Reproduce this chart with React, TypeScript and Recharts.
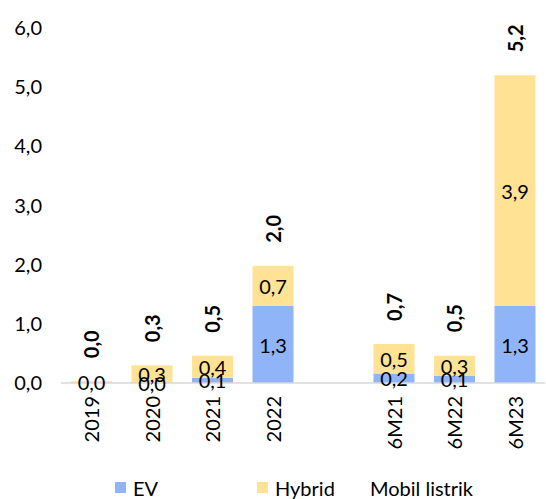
import React from 'react';
import { ComposedChart, Bar, Line, XAxis, YAxis, Legend, LabelList } from 'recharts';

const periods = ['2019', '2020', '2021', '2022', '', '6M21', '6M22', '6M23'];
const evValues = [0.0, 0.01, 0.09, 1.3, null, 0.16, 0.12, 1.3];
const hybridValues = [0.03, 0.29, 0.37, 0.68, null, 0.5, 0.34, 3.9];
const totalValues = [0.03, 0.3, 0.46, 1.98, null, 0.66, 0.47, 5.2];
const yTicks = [0, 1, 2, 3, 4, 5, 6];

const data = periods.map((p, i) => ({
  period: p,
  ev: evValues[i],
  hybrid: hybridValues[i],
  total: totalValues[i],
}));

const FONT = 'Lato, "Noto Sans", sans-serif';
const FS = 20;
const EV_COLOR = '#8FB4F8';
const HYBRID_COLOR = '#FFE294';

const fmt = (v: number) => v.toFixed(1).replace('.', ',');

const SegmentLabel = (props: any) => {
  const { x, y, width, height, value } = props;
  if (value == null) return null;
  return (
    <text
      x={x + width / 2}
      y={y + height / 2}
      textAnchor="middle"
      dominantBaseline="central"
      fontSize={FS}
      fontFamily={FONT}
      fill="#000"
    >
      {fmt(value)}
    </text>
  );
};

const TotalLabel = (props: any) => {
  const { x, y, value } = props;
  if (value == null) return null;
  const cy = y - 37;
  return (
    <text
      x={x}
      y={cy}
      transform={`rotate(-90, ${x}, ${cy})`}
      textAnchor="middle"
      dominantBaseline="central"
      fontSize={FS}
      fontWeight="bold"
      fontFamily={FONT}
      fill="#000"
    >
      {fmt(value)}
    </text>
  );
};

const PeriodTick = (props: any) => {
  const { x, y, payload } = props;
  const ty = y + 5;
  return (
    <text
      x={x}
      y={ty}
      transform={`rotate(-90, ${x}, ${ty})`}
      textAnchor="end"
      dominantBaseline="central"
      fontSize={FS}
      fontFamily={FONT}
      fill="#000"
    >
      {payload.value}
    </text>
  );
};

const legendItems = [
  { label: 'EV', color: EV_COLOR, width: 142 },
  { label: 'Hybrid', color: HYBRID_COLOR, width: 95 },
  { label: 'Mobil listrik', color: 'transparent', width: 140 },
];

const ChartLegend = () => (
  <div style={{ display: 'flex', paddingLeft: 115, fontFamily: FONT, fontSize: FS, color: '#000', height: 25, alignItems: 'center' }}>
    {legendItems.map((it) => (
      <div key={it.label} style={{ display: 'flex', alignItems: 'center', width: it.width }}>
        <span style={{ width: 11, height: 11, background: it.color, marginRight: 7, display: 'inline-block' }} />
        <span>{it.label}</span>
      </div>
    ))}
  </div>
);

const App: React.FC = () => {
  return (
    <div style={{ position: 'absolute', left: 0, top: 0, width: 546, height: 499, background: '#fff' }}>
      <ComposedChart
        width={546}
        height={499}
        data={data}
        margin={{ top: 28, right: 1, left: 0, bottom: 31 }}
      >
        <XAxis
          dataKey="period"
          axisLine={{ stroke: '#D9D9D9', strokeWidth: 1.5 }}
          tickLine={false}
          tick={<PeriodTick />}
          interval={0}
          height={60}
        />
        <YAxis
          domain={[0, 6]}
          ticks={yTicks}
          width={61}
          axisLine={false}
          tickLine={false}
          tickSize={0}
          tickMargin={19}
          tickFormatter={(v: number) => fmt(v)}
          tick={{ fontSize: FS, fontFamily: FONT, fill: '#000' }}
        />
        <Legend
          verticalAlign="bottom"
          content={<ChartLegend />}
          wrapperStyle={{ left: 0, top: 475, width: 546 }}
        />
        <Bar dataKey="ev" name="EV" stackId="a" fill={EV_COLOR} barSize={41} isAnimationActive={false}>
          <LabelList dataKey="ev" content={<SegmentLabel />} />
        </Bar>
        <Bar dataKey="hybrid" name="Hybrid" stackId="a" fill={HYBRID_COLOR} barSize={41} isAnimationActive={false}>
          <LabelList dataKey="hybrid" content={<SegmentLabel />} />
        </Bar>
        <Line
          dataKey="total"
          name="Mobil listrik"
          stroke="none"
          dot={false}
          activeDot={false}
          isAnimationActive={false}
        >
          <LabelList dataKey="total" content={<TotalLabel />} />
        </Line>
      </ComposedChart>
    </div>
  );
};

export default App;
